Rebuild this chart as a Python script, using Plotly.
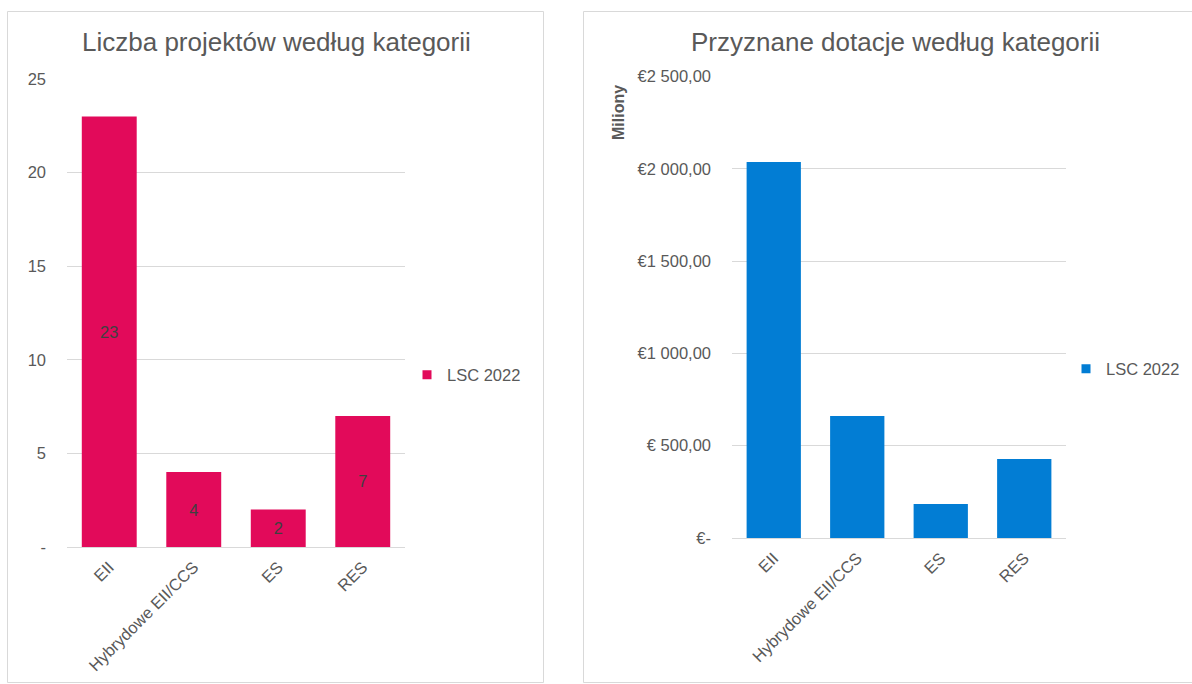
import plotly.graph_objects as go

# ---- data ----
categories = ["EII", "Hybrydowe EII/CCS", "ES", "RES"]
project_counts = [23, 4, 2, 7]
grants_millions = [2037, 661, 184, 428]
series_name = "LSC 2022"

left_title = "Liczba projektów według kategorii"
right_title = "Przyznane dotacje według kategorii"
right_axis_unit = "Miliony"

left_tickvals = [0, 5, 10, 15, 20, 25]
left_ticktext = ["-", "5", "10", "15", "20", "25"]
right_tickvals = [0, 500, 1000, 1500, 2000, 2500]
right_ticktext = ["€-", "€ 500,00", "€1 000,00", "€1 500,00", "€2 000,00", "€2 500,00"]

# ---- layout helpers (pixel -> paper) ----
W, H = 1192, 684
def px(x):
    return x / W
def py(y):
    return 1 - y / H

PINK = "#E20A5A"
BLUE = "#027DD4"
GRID = "#D9D9D9"
TXT = "#595959"
FONT = "Liberation Sans, Arial, sans-serif"
TICK_SIZE = 16.5

fig = go.Figure()

fig.add_trace(go.Bar(
    x=categories, y=project_counts, name=series_name,
    marker=dict(color=PINK, line=dict(width=0)),
    text=[str(v) for v in project_counts], textposition="inside",
    insidetextanchor="middle", constraintext="none",
    textfont=dict(color="#404040", size=TICK_SIZE, family=FONT),
    xaxis="x", yaxis="y", legend="legend", showlegend=False,
    hoverinfo="x+y",
))
fig.add_trace(go.Bar(
    x=categories, y=grants_millions, name=series_name,
    marker=dict(color=BLUE, line=dict(width=0)),
    xaxis="x2", yaxis="y2", legend="legend2", showlegend=False,
    hoverinfo="x+y",
))
# legend entries (square markers like the original legend keys)
fig.add_trace(go.Scatter(x=[None], y=[None], mode="markers", name=series_name,
                         marker=dict(symbol="square", size=9, color=PINK),
                         xaxis="x", yaxis="y", legend="legend"))
fig.add_trace(go.Scatter(x=[None], y=[None], mode="markers", name=series_name,
                         marker=dict(symbol="square", size=9, color=BLUE),
                         xaxis="x2", yaxis="y2", legend="legend2"))

axis_common = dict(
    tickfont=dict(size=TICK_SIZE, color=TXT, family=FONT),
    fixedrange=True,
    automargin=False,
)

fig.update_layout(
    width=W, height=H,
    autosize=False,
    margin=dict(l=0, r=0, t=0, b=0, pad=0, autoexpand=False),
    paper_bgcolor="white", plot_bgcolor="white",
    font=dict(family=FONT, color=TXT),
    bargap=0.35,
    xaxis=dict(domain=[px(67), px(405)], type="category", tickangle=-45,
               showline=True, linecolor=GRID, linewidth=1, ticks="",
               showgrid=False, ticklabelstandoff=3, **axis_common),
    yaxis=dict(domain=[py(547), py(79)], range=[0, 25], tickvals=left_tickvals,
               ticktext=left_ticktext, showgrid=True, gridcolor=GRID, gridwidth=1,
               zeroline=False, showline=False, ticks="", ticklabelstandoff=20,
               **axis_common),
    xaxis2=dict(domain=[px(732), px(1066)], type="category", tickangle=-45,
                showline=True, linecolor=GRID, linewidth=1, ticks="",
                showgrid=False, ticklabelstandoff=3, anchor="y2", **axis_common),
    yaxis2=dict(domain=[py(538), py(76.5)], range=[0, 2500], tickvals=right_tickvals,
                ticktext=right_ticktext, showgrid=True, gridcolor=GRID, gridwidth=1,
                zeroline=False, showline=False, ticks="", ticklabelstandoff=20,
                anchor="x2", **axis_common),
    legend=dict(x=px(407), y=py(375), xanchor="left", yanchor="middle",
                bgcolor="rgba(0,0,0,0)",
                font=dict(size=TICK_SIZE, color=TXT, family=FONT)),
    legend2=dict(x=px(1066), y=py(369), xanchor="left", yanchor="middle",
                 bgcolor="rgba(0,0,0,0)",
                 font=dict(size=TICK_SIZE, color=TXT, family=FONT)),
    showlegend=True,
)

# chart-area borders
fig.add_shape(type="rect", xref="paper", yref="paper",
              x0=px(7.5), x1=px(543.5), y0=py(682.5), y1=py(11.5),
              line=dict(color=GRID, width=1), fillcolor="rgba(0,0,0,0)", layer="below")
fig.add_shape(type="rect", xref="paper", yref="paper",
              x0=px(583.5), x1=px(1200), y0=py(682.5), y1=py(11.5),
              line=dict(color=GRID, width=1), fillcolor="rgba(0,0,0,0)", layer="below")

# titles
fig.add_annotation(text=left_title, xref="paper", yref="paper", x=px(276), y=py(42),
                   xanchor="center", yanchor="middle", showarrow=False,
                   font=dict(size=26, color=TXT, family=FONT))
fig.add_annotation(text=right_title, xref="paper", yref="paper", x=px(895), y=py(42),
                   xanchor="center", yanchor="middle", showarrow=False,
                   font=dict(size=26, color=TXT, family=FONT))
fig.add_annotation(text="<b>" + right_axis_unit + "</b>", xref="paper", yref="paper",
                   x=px(618), y=py(112), xanchor="center", yanchor="middle",
                   textangle=-90, showarrow=False,
                   font=dict(size=16, color=TXT, family=FONT))

post = (
    "document.documentElement.style.margin='0';"
    "document.body.style.margin='0';document.body.style.padding='0';"
    "document.documentElement.style.overflow='hidden';"
    "document.body.style.overflow='hidden';"
    "var d=document.getElementById('{plot_id}');"
    "d.style.position='fixed';d.style.left='0px';d.style.top='0px';"
)
fig.write_html("out.html", post_script=post, config={"displayModeBar": False})
